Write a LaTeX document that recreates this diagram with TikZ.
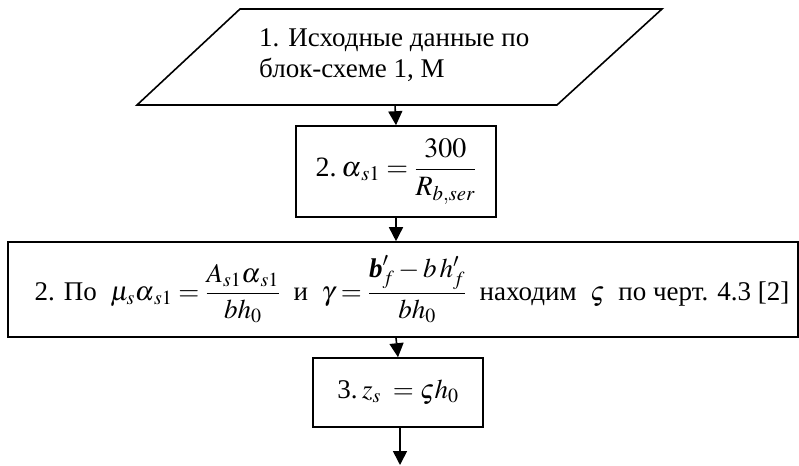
\documentclass[tikz,border=0pt]{standalone}
\usepackage{amsmath}
\usepackage{mathptmx}
\usepackage{fontspec}
\setmainfont{Liberation Serif}
\newfontfamily\tmsfont{Liberation Serif}
\usetikzlibrary{arrows.meta}
\begin{document}
\begin{tikzpicture}[x=1pt,y=-1pt,
  every node/.style={font=\tmsfont\fontsize{27}{31}\selectfont},
  box/.style={draw, line width=1.6pt, inner sep=0pt},
  outline/.style={draw, line width=1.6pt, line join=miter},
  arr/.style={line width=1.6pt, -{Triangle[width=14pt,length=14pt]}}]
\useasboundingbox (0,0) rectangle (799,465);
% input parallelogram
\coordinate (pa) at (240,9);
\coordinate (pb) at (662,9);
\coordinate (pc) at (557,105);
\coordinate (pd) at (137,105);
\coordinate (pout) at (395,105);
\draw[outline] (pa) -- (pb) -- (pc) -- (pd) -- cycle;
\node[anchor=west, align=left, inner sep=0pt] (t1) at (259,55)
  {1. Исходные данные по\\блок-схеме 1, М};
% box 2
\node[box, minimum width=200pt, minimum height=91pt, font=\tmsfont\fontsize{28}{32}\selectfont] (b2) at (396,171.5)
  {2.\,$\alpha_{\,s1}=\dfrac{300}{R_{b,ser}}$};
% wide box
\node[box, minimum width=790pt, minimum height=95pt] (b3) at (403,289.5)
  {\hspace{18pt}2. По\enspace$\mu_s\alpha_{\,s1}=\dfrac{A_{s1}\alpha_{\,s1}}{bh_0}$\enspace и\enspace$\gamma=\dfrac{\text{\tmsfont\bfseries\itshape b}'_f-b\,h'_f}{bh_0}$\enspace находим\enspace$\varsigma$\enspace по черт. 4.3 [2]};
% box 3
\node[box, minimum width=170pt, minimum height=69pt] (b4) at (398,392.5)
  {3.\,$z_s\;=\varsigma h_0$};
\coordinate (end) at (400,465);
% connectors
\draw[arr] (pout) -- (b2.north);
\draw[arr] (b2.south) -- (b2.south |- b3.north);
\draw[arr] (b2.south |- b3.south) -- (b4.north);
\draw[arr] (b4.south -| end) -- (end);
\end{tikzpicture}
\end{document}
